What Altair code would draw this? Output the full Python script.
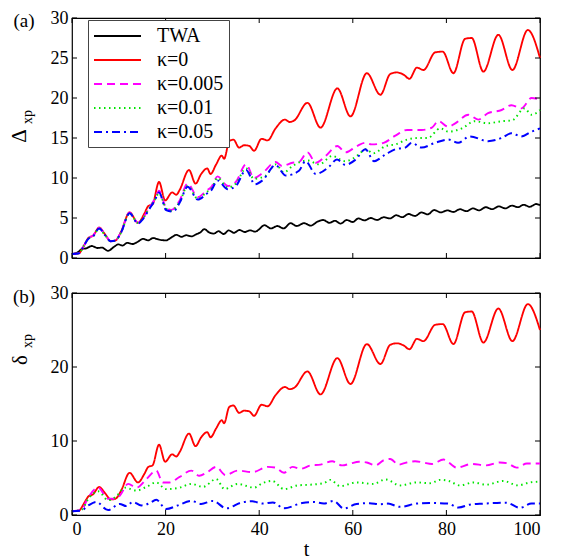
import altair as alt
import pandas as pd

# ---------------- data ----------------
labels = ["TWA", "κ=0", "κ=0.005", "κ=0.01", "κ=0.05"]
colors = ["#000000", "#ff0000", "#ff00ff", "#00e600", "#0000ff"]
dashes = [[1, 0], [1, 0], [8, 5], [1.5, 3.5], [8, 4, 2, 4]]
widths = [1.8, 2.0, 2.5, 1.6, 2.5]

x_ticks = [0, 20, 40, 60, 80, 100]
ya_ticks = [0, 5, 10, 15, 20, 25, 30]
yb_ticks = [0, 10, 20, 30]

# TWA (panel a only)
t_twa = [0, 1.2, 2.2, 3.0, 4.2, 5.5, 6.4, 7.7, 9.0, 9.9, 10.8, 11.8, 12.9, 14.0, 15.2, 16.3, 17.3,
         18.6, 20.1, 21.2, 22.3, 23.4, 24.4, 25.5, 26.5, 27.4, 28.3, 29.3, 30.3, 31.3, 32.4, 33.5,
         34.6, 35.8, 36.9, 38.0, 39.2, 40.0, 41.1, 42.5, 43.9, 45.2, 46.7, 48.0, 49.6, 51.0, 52.5,
         53.7, 55.0, 56.2, 57.4, 58.7, 60.0, 61.2, 62.5, 63.8, 65.2, 66.6, 68.0, 69.3, 70.6, 71.9,
         73.3, 74.7, 76.0, 77.4, 78.8, 80.2, 81.5, 82.9, 84.3, 85.7, 87.0, 88.4, 89.8, 91.2, 92.6,
         94.0, 95.3, 96.5, 97.8, 99.2, 100]
v_twa = [0.5, 0.7, 1.15, 1.2, 1.5, 1.25, 1.3, 0.9, 1.4, 1.7, 1.55, 1.9, 1.75, 2.0, 2.4, 2.2, 2.5,
         2.3, 2.2, 2.55, 2.9, 2.65, 2.85, 2.7, 2.95, 3.2, 3.6, 3.2, 3.05, 3.35, 3.0, 3.45,
         3.15, 3.5, 3.25, 3.45, 3.3, 3.6, 4.1, 3.7, 4.0, 3.7, 4.35, 4.0, 4.35, 4.05, 4.55,
         4.75, 4.4, 4.65, 4.3, 4.75, 4.5, 4.95, 4.7, 5.0, 4.75, 5.1, 4.95, 5.35, 5.1, 5.5,
         5.25, 5.7, 5.45, 6.0, 5.7, 5.95, 5.75, 6.1, 5.85, 6.2, 5.95, 6.35, 6.1, 6.45, 6.2,
         6.55, 6.35, 6.65, 6.4, 6.75, 6.6]

# kappa = 0 (identical in both panels)
t_k0 = [0, 1.5, 2.5, 3.5, 4.5, 5.8, 7.0, 8.3, 9.3, 10.5, 12.3, 14.1, 15.5, 16.3, 17.2, 18.6, 19.9,
        21.4, 22.3, 23.0, 25.0, 26.4, 27.6, 28.9, 29.6, 30.8, 32.0, 32.5, 33.6, 34.5, 35.7, 36.8,
        37.9, 38.9, 40.5, 41.8, 43.5, 45.5, 46.5, 47.5, 50.3, 53.1, 56.7, 59.5, 63.0, 65.9, 68.0,
        69.4, 70.9, 72.1, 73.7, 75.1, 77.6, 79.2, 81.5, 84.0, 85.4, 87.9, 91.1, 94.1, 97.4, 100]
v_k0 = [0.5, 0.6, 1.5, 2.5, 2.8, 3.8, 3.0, 2.1, 2.2, 3.3, 5.7, 4.4, 5.6, 6.5, 6.7, 9.5, 7.2,
        8.2, 7.9, 8.5, 11.0, 9.3, 10.5, 11.2, 10.5, 11.7, 12.8, 12.4, 14.6, 14.8, 13.8, 14.1,
        14.0, 13.4, 14.9, 14.7, 16.2, 17.3, 17.0, 17.2, 19.4, 16.3, 21.2, 17.7, 23.1, 20.4, 23.0,
        23.2, 22.9, 22.4, 23.8, 23.5, 25.7, 25.8, 23.1, 27.4, 27.5, 23.3, 27.9, 23.5, 28.5, 25.0]

# panel (a): kappa = 0.005, 0.01, 0.05
ta_k1 = [0, 1.5, 2.5, 3.5, 4.5, 5.8, 7.0, 8.3, 9.3, 10.5, 12.3, 14.1, 15.2, 16.5, 17.7, 18.6, 20.1,
         21.2, 23.0, 24.7, 26.9, 28.7, 29.8, 31.1, 33.3, 35.0, 37.2, 38.9, 40.7, 43.5, 44.9, 47.1,
         48.5, 50.3, 52.1, 54.2, 56.7, 58.4, 60.9, 62.7, 64.0, 66.6, 69.1, 71.6, 74.7, 76.9, 78.3,
         80.4, 81.8, 84.7, 86.8, 88.9, 91.8, 93.9, 96.0, 98.2, 100]
va_k1 = [0.5, 0.6, 1.5, 2.5, 2.8, 3.8, 3.0, 2.1, 2.2, 3.3, 5.7, 4.4, 5.0, 6.3, 7.4, 8.4, 6.3,
         6.0, 7.2, 9.3, 7.6, 8.4, 8.9, 10.2, 9.0, 9.5, 11.7, 10.0, 10.6, 12.0, 11.5, 11.9,
         12.0, 13.2, 11.9, 12.75, 14.0, 13.2, 14.0, 14.4, 14.2, 14.4, 15.3, 16.0, 16.0, 16.3, 17.1,
         16.4, 16.8, 17.9, 17.3, 18.1, 18.5, 19.1, 18.7, 20.0, 19.8]
ta_k2 = [0, 1.5, 2.5, 3.5, 4.5, 5.8, 7.0, 8.3, 9.3, 10.5, 12.3, 14.1, 15.2, 16.5, 17.7, 18.6, 20.1,
         21.2, 23.0, 24.7, 26.9, 28.7, 29.8, 31.1, 33.3, 35.0, 37.2, 38.9, 41.4, 43.5, 45.3, 47.1,
         50.3, 52.8, 55.6, 58.4, 61.3, 62.7, 64.4, 67.0, 69.1, 71.6, 74.0, 76.0, 78.7, 80.4, 83.3,
         86.1, 88.9, 91.8, 94.0, 96.7, 98.2, 100]
va_k2 = [0.5, 0.6, 1.5, 2.4, 2.7, 3.7, 2.9, 2.1, 2.2, 3.2, 5.6, 4.4, 5.0, 6.2, 7.3, 8.1, 6.2,
         5.9, 7.0, 9.0, 7.4, 8.2, 8.7, 10.0, 8.8, 9.3, 11.2, 9.9, 10.3, 11.7, 10.7, 11.5,
         12.2, 11.7, 12.75, 12.1, 12.95, 13.6, 13.1, 14.0, 14.2, 14.8, 15.0, 15.0, 16.2, 15.8, 16.2,
         17.1, 16.85, 17.1, 17.2, 18.7, 17.9, 18.5]
ta_k3 = [0, 1.5, 2.5, 3.5, 4.5, 5.8, 7.0, 8.3, 9.3, 10.5, 12.3, 14.1, 15.2, 16.5, 17.7, 18.6, 20.1,
         21.6, 23.0, 24.7, 26.9, 28.7, 29.8, 31.1, 33.3, 35.0, 37.2, 39.1, 40.7, 43.5, 45.7, 48.5,
         49.9, 52.1, 54.9, 56.6, 58.4, 60.6, 62.7, 64.5, 67.0, 69.1, 71.2, 72.6, 74.7, 77.6, 80.4,
         82.5, 85.0, 88.9, 91.8, 93.9, 96.0, 98.2, 100]
va_k3 = [0.5, 0.6, 1.5, 2.4, 2.7, 3.7, 2.9, 2.1, 2.2, 3.2, 5.6, 4.3, 4.9, 6.1, 7.2, 8.2, 6.0,
         5.8, 6.9, 8.9, 7.3, 8.0, 8.5, 9.7, 8.6, 9.0, 11.0, 9.2, 9.7, 11.6, 10.3, 10.9,
         12.1, 10.5, 11.4, 12.3, 11.65, 12.3, 13.6, 12.1, 12.95, 13.6, 13.8, 14.4, 13.8, 14.4, 14.8,
         14.4, 15.2, 14.6, 15.0, 15.6, 15.2, 15.8, 16.2]

# panel (b): kappa = 0.005, 0.01, 0.05
tb_k1 = [0, 2.0, 3.5, 5.6, 7.7, 9.2, 10.2, 12.0, 13.8, 15.9, 18.0, 19.4, 20.8, 23.0, 25.5, 27.2,
         28.7, 30.8, 32.8, 35.4, 38.6, 41.8, 43.5, 45.3, 47.1, 48.9, 51.0, 53.1, 55.6, 57.7, 59.5,
         61.3, 63.0, 64.8, 66.6, 68.0, 69.8, 71.5, 73.3, 75.0, 76.9, 79.4, 82.2, 85.4, 88.5, 91.4,
         93.0, 95.0, 97.2, 100]
vb_k1 = [0.5, 0.7, 2.4, 3.7, 2.2, 2.2, 2.6, 4.2, 3.7, 4.85, 6.0, 4.4, 4.4, 5.15, 6.0, 5.3,
         5.7, 6.5, 5.4, 6.0, 5.8, 6.5, 6.4, 5.7, 6.5, 6.25, 6.7, 6.8, 7.26, 6.7, 6.95,
         7.2, 7.1, 6.7, 7.4, 7.57, 6.8, 7.1, 7.26, 7.1, 6.9, 7.5, 6.4, 6.9, 6.7, 7.1,
         7.0, 6.4, 6.95, 6.95]
tb_k2 = [0, 2.0, 3.5, 5.6, 7.7, 9.6, 11.3, 13.8, 15.9, 18.0, 20.1, 23.0, 25.5, 28.0, 30.8, 32.6,
         35.4, 38.9, 40.7, 42.8, 45.3, 48.2, 51.0, 53.8, 55.2, 57.3, 60.8, 64.4, 67.0, 70.1, 73.6,
         76.5, 78.7, 80.5, 82.9, 85.8, 88.5, 92.1, 95.3, 97.8, 100]
vb_k2 = [0.5, 0.7, 2.2, 3.2, 2.0, 2.6, 3.7, 3.3, 3.8, 4.4, 3.5, 3.7, 4.2, 3.8, 4.85, 3.5,
         4.2, 3.7, 4.3, 4.6, 3.5, 4.0, 4.1, 4.3, 4.75, 3.9, 4.4, 4.2, 4.8, 4.0, 4.4,
         4.3, 4.75, 4.6, 4.0, 4.4, 4.1, 4.6, 4.0, 4.4, 4.5]
tb_k3 = [0, 2.0, 3.5, 5.2, 7.7, 10.2, 11.6, 13.0, 14.8, 16.6, 18.0, 20.1, 22.6, 25.5, 27.6, 30.1,
         33.0, 36.1, 38.5, 40.8, 42.9, 45.3, 49.2, 51.6, 53.8, 55.9, 58.1, 60.8, 63.6, 65.7, 67.5,
         70.1, 73.6, 76.4, 80.4, 82.6, 85.0, 87.9, 92.8, 95.7, 98.2, 100]
vb_k3 = [0.5, 0.6, 1.3, 1.76, 0.66, 1.5, 1.2, 1.76, 1.3, 1.6, 2.07, 0.8, 1.3, 1.9, 1.5, 1.9,
         0.9, 1.67, 1.85, 1.55, 1.7, 0.9, 1.63, 1.76, 1.55, 1.9, 0.88, 1.5, 1.6, 1.45, 1.54,
         1.1, 1.54, 1.63, 1.54, 1.0, 1.4, 1.54, 1.67, 0.97, 1.54, 1.54]


def frame(pairs):
    rows = []
    for name, ts, vs in pairs:
        for i, (t, v) in enumerate(zip(ts, vs)):
            rows.append({"t": t, "v": v, "series": name, "i": i})
    return pd.DataFrame(rows)


df_a = frame([("TWA", t_twa, v_twa), ("κ=0", t_k0, v_k0), ("κ=0.005", ta_k1, va_k1),
              ("κ=0.01", ta_k2, va_k2), ("κ=0.05", ta_k3, va_k3)])
df_b = frame([("κ=0", t_k0, v_k0), ("κ=0.005", tb_k1, vb_k1),
              ("κ=0.01", tb_k2, vb_k2), ("κ=0.05", tb_k3, vb_k3)])

W = 468
HA = 240
HB = 222
FONT = "Liberation Serif"

xscale = alt.Scale(domain=[0, 100], nice=False, zero=False)
yscale = alt.Scale(domain=[0, 30], nice=False)

# long horizontal legend line drawn with a custom symbol path (size 400 -> r = 10 px)
leg = alt.Legend(title=None, orient="none", legendX=16, legendY=2,
                 symbolType="M-1,0H3.7", symbolSize=400, symbolStrokeWidth=2,
                 labelFont=FONT, labelFontSize=20, labelColor="black",
                 strokeColor="#444444", fillColor="white", padding=5,
                 rowPadding=3, labelOffset=42, labelLimit=300)

ax_common = dict(domain=False, ticks=False, grid=False, labelFont=FONT, labelFontSize=18,
                 labelColor="black", labelOverlap=False)

xaxis_a = alt.Axis(values=x_ticks, labels=False, title=None, **ax_common)
yaxis_a = alt.Axis(values=ya_ticks, title=None, labelPadding=4, **ax_common)
xaxis_b = alt.Axis(values=x_ticks, title="t", labelPadding=5, titleFont=FONT, titleFontSize=20,
                   titleFontWeight="normal", titleColor="black", titlePadding=1, **ax_common)
yaxis_b = alt.Axis(values=yb_ticks, title=None, labelPadding=4, **ax_common)


def lines(df, legend, xaxis, yaxis):
    return alt.Chart(df).mark_line(interpolate="monotone").encode(
        x=alt.X("t:Q", scale=xscale, axis=xaxis),
        y=alt.Y("v:Q", scale=yscale, axis=yaxis),
        color=alt.Color("series:N", scale=alt.Scale(domain=labels, range=colors), legend=legend),
        strokeDash=alt.StrokeDash("series:N", scale=alt.Scale(domain=labels, range=dashes),
                                  legend=legend),
        strokeWidth=alt.StrokeWidth("series:N", scale=alt.Scale(domain=labels, range=widths),
                                    legend=None),
        order="i:Q",
        detail="series:N",
    )


def inward_ticks(yvals, h, xaxis, yaxis):
    xt = alt.Chart(pd.DataFrame({"t": x_ticks}))
    yt = alt.Chart(pd.DataFrame({"v": yvals}))
    rs = dict(color="black", strokeWidth=1)
    X = alt.X("t:Q", scale=xscale, axis=xaxis)
    Y = alt.Y("v:Q", scale=yscale, axis=yaxis)
    return alt.layer(
        xt.mark_rule(**rs).encode(x=X, y=alt.value(h), y2=alt.value(h - 5)),
        xt.mark_rule(**rs).encode(x=X, y=alt.value(0), y2=alt.value(5)),
        yt.mark_rule(**rs).encode(y=Y, x=alt.value(0), x2=alt.value(5)),
        yt.mark_rule(**rs).encode(y=Y, x=alt.value(W - 5), x2=alt.value(W)),
    )


def text(s, x, y, size, angle=0):
    kw = dict(font=FONT, fontSize=size, color="black", align="center", baseline="middle")
    if angle:
        kw["angle"] = angle
    return alt.Chart(pd.DataFrame({"s": [s]})).mark_text(**kw).encode(
        text="s:N", x=alt.value(x), y=alt.value(y))


top = alt.layer(
    lines(df_a, leg, xaxis_a, yaxis_a),
    inward_ticks(ya_ticks, HA, xaxis_a, yaxis_a),
    text("(a)", -48, 3, 19),
    text("Δ", -52, 118, 21, 270),
    text("xp", -44, 99, 14, 270),
).properties(width=W, height=HA)

bottom = alt.layer(
    lines(df_b, None, xaxis_b, yaxis_b),
    inward_ticks(yb_ticks, HB, xaxis_b, yaxis_b),
    text("(b)", -48, 4, 19),
    text("δ", -51, 67, 21, 270),
    text("xp", -44, 48, 14, 270),
).properties(width=W, height=HB)

chart = alt.vconcat(top, bottom, spacing=15).resolve_legend(
    color="independent", strokeDash="independent"
).properties(padding={"left": 0, "top": 0, "right": 4, "bottom": 0}).configure_view(
    stroke="black", strokeWidth=1.2
)

chart.save("out.html", embed_options={"renderer": "svg", "actions": False})
